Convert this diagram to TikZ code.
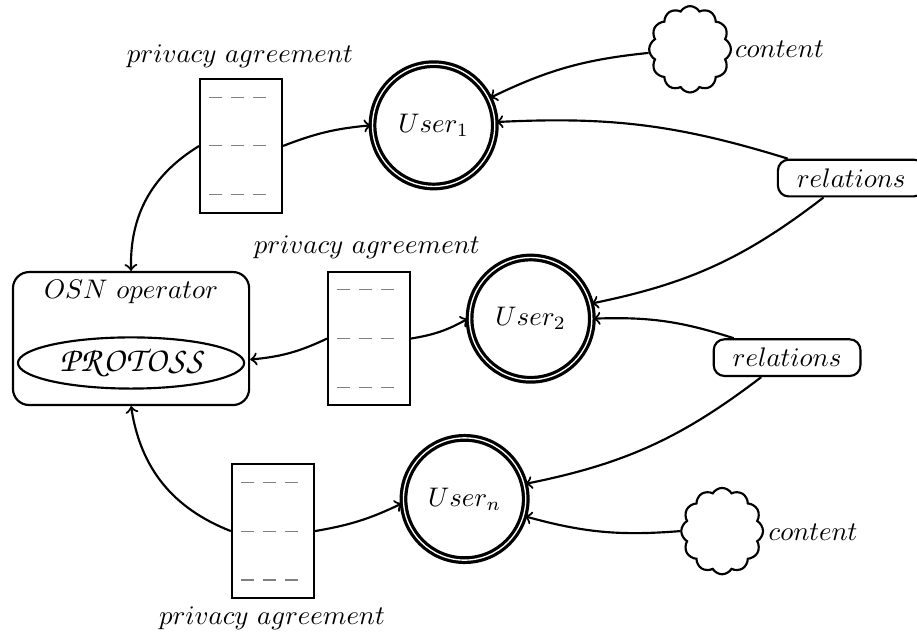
\documentclass[tikz,border=0pt]{standalone}
\usetikzlibrary{shapes.geometric,shapes.symbols}
\newcommand\protoss{\fontsize{13}{15}\fontencoding{OT1}\fontfamily{pzc}\fontseries{mb}\fontshape{it}\selectfont P\kern.7pt R\kern.7pt O\kern.7pt T\kern.7pt O\kern.7pt S\kern.7pt S}
\begin{document}
\begin{tikzpicture}[thick,font=\fontsize{9.65}{11}\selectfont,
 user/.style={draw,circle,double,line width=1.2pt,double distance=.5pt,minimum size=1.6cm,inner sep=0},
 doc/.style={draw,minimum width=1.07cm,minimum height=1.75cm},
 rel/.style={draw,rounded corners=4pt,minimum width=1.92cm,minimum height=.48cm},
 puff/.style={draw,cloud,cloud puffs=12,cloud puff arc=120,aspect=1,minimum width=1.07cm,minimum height=1.13cm,inner sep=0},
 dashline/.style={thin,gray,dash pattern=on .17cm off .12cm}]
\useasboundingbox (0,0) rectangle (12,8.27);
\path (5.675,6.63) node[user] (ua) {$User_1$} (6.945,4.10) node[user] (ub) {$User_2$} (6.08,1.74) node[user] (un) {$User_n$}
(9.03,7.625) node[puff] (ca) {} (9.45,1.32) node[puff] (cn) {}
(10.2,7.62) node (ta) {$content$} (10.64,1.31) node (tn) {$content$}
(11.14,5.94) node[rel] (ra) {$relations$} (10.30,3.59) node[rel] (rb) {$relations$}
(3.155,6.36) node[doc] (da) {} (4.83,3.84) node[doc] (db) {} (3.57,1.32) node[doc] (dn) {}
(3.14,7.54) node (pa) {$privacy~agreement$} (4.80,5.03) node (pb) {$privacy~agreement$} (3.56,.18) node (pn) {$privacy~agreement$};
\node[draw,rounded corners=6pt,minimum width=3.09cm,minimum height=1.74cm] (osn) at (1.715,3.84) {};
\node (ot) at (1.715,4.45) {$OSN~operator$};
\node[draw,ellipse,minimum width=2.96cm,minimum height=.67cm,inner sep=0] (pr) at (1.715,3.52) {\protoss};
\foreach \d in {da,db,dn} \foreach \y in {.64,0,-.64} \draw[dashline] ([shift={(-.42,\y)}]\d.center) --+(.76,0);
\foreach \a/\b/\o in {ca.185/ua.26/-10, ra.163/ua.3/-10, ra.-145/ub.14/13, rb.160/ub.0/-10, rb.-143/un.14/13, cn.west/un.-16/10,
 da.east/ua.west/8, dn.east/un.184/-8, db.east/ub.west/-10, db.west/osn.-10/10}
 \draw[->] (\a) to[bend left=\o] (\b);
\draw[->] (da.west) to[bend right=30] (osn.north);
\draw[->] (dn.west) to[bend left=30] (osn.south);
\end{tikzpicture}
\end{document}
